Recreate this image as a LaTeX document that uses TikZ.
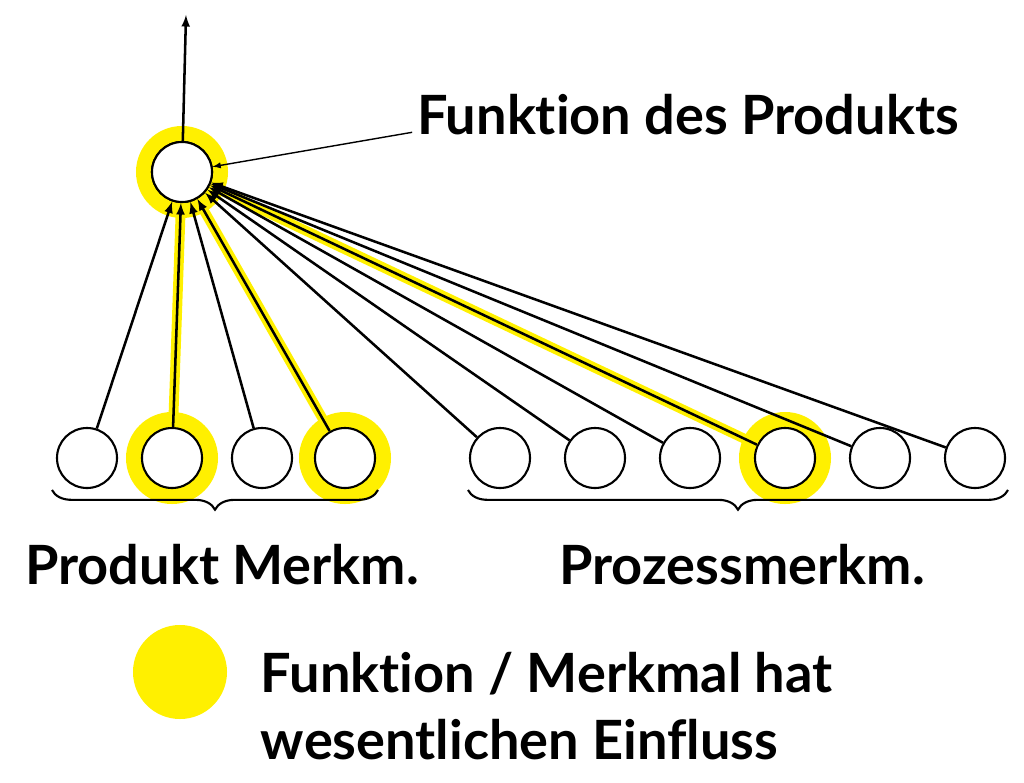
\documentclass[tikz,border=0pt]{standalone}
\usepackage{fontspec}
\setmainfont[Ligatures=NoCommon]{Lato}
\usetikzlibrary{decorations.pathreplacing}
\definecolor{einfluss}{RGB}{255,240,0}
\tikzset{
  merkmal/.style={circle,draw,line width=1.5pt,fill=white,minimum size=1.5cm,inner sep=0pt},
  ring/.style={circle,fill=einfluss,minimum size=2.3cm,inner sep=0pt},
  kante/.style={-latex,line width=1.8pt},
  gelb/.style={einfluss,line width=7pt},
  titel/.style={font=\bfseries\fontsize{38.5}{48}\selectfont}
}
\begin{document}
\begin{tikzpicture}[x=0.025cm,y=-0.025cm]
			\useasboundingbox (0,0) rectangle (1024,782);
			% rings
			\node[ring] at (182,172) {};
			\foreach \x in {172,345,785} \node[ring] at (\x,458) {};
			% Funktion
			\node[merkmal] (f) at (182,172) {};
			\foreach \x [count=\i] in {87,172,262,345,500,595,690,785,880,975}
				\node[merkmal] (m\i) at (\x,458) {};
			% yellow underlay
			\foreach \i in {2,4,8} \draw[gelb] (m\i) -- (f);
			\foreach \i in {1,...,10} \draw[kante] (m\i) -- (f);
			\node[merkmal] at (182,172) {};
			\coordinate (oben) at (186,15);
			\draw[kante] (f) -- (oben);
			% labels
			\node[titel] (ftext) at (688,115) {Funktion des Produkts};
			\draw[-latex,line width=1pt] (ftext.south west) ++(0,-8) -- (f);
			\draw[decorate,decoration={brace,mirror,amplitude=14pt},line width=1.5pt] (52,490) -- (378,490);
			\draw[decorate,decoration={brace,mirror,amplitude=14pt},line width=1.5pt] (468,490) -- (1008,490);
			\node[titel] (pm) at (222,565) {Produkt Merkm.};
			\node[titel] (vm) at (742,565) {Prozessmerkm.};
			% legend
			\node[circle,fill=einfluss,minimum size=2.35cm] (leg) at (180,672) {};
			\node[titel,anchor=west,align=left] (legtext) at (256,706) {Funktion / Merkmal hat\\wesentlichen Einfluss};
\end{tikzpicture}
\end{document}
